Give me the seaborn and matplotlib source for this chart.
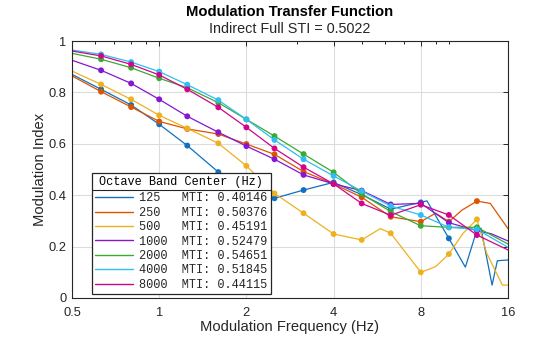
import numpy as np
import pandas as pd
import matplotlib
matplotlib.use("Agg")
import matplotlib.pyplot as plt
import seaborn as sns
from matplotlib.lines import Line2D
from matplotlib.ticker import FixedLocator, NullFormatter

# ---------------- data ----------------
title_text = "Modulation Transfer Function"
subtitle_text = "Indirect Full STI = 0.5022"
x_label = "Modulation Frequency (Hz)"
y_label = "Modulation Index"
legend_title = "Octave Band Center (Hz)"

bands = [125, 250, 500, 1000, 2000, 4000, 8000]
mti = [0.40146, 0.50376, 0.45191, 0.52479, 0.54651, 0.51845, 0.44115]
colors = ["#1171BE", "#DD5400", "#EDB120", "#8516D1", "#3BAA32", "#2FBEEF", "#D1048B"]

# 1/3-octave modulation frequencies (markers)
mod_freqs = [0.63, 0.8, 1.0, 1.25, 1.6, 2.0, 2.5, 3.15, 4.0, 5.0, 6.3, 8.0, 10.0, 12.5]

mtf_125 = [0.812, 0.751, 0.676, 0.593, 0.490, 0.370, 0.388, 0.420, 0.450, 0.402, 0.346, 0.372, 0.232, 0.265]
mtf_250 = [0.803, 0.743, 0.687, 0.658, 0.638, 0.599, 0.559, 0.492, 0.444, 0.392, 0.316, 0.297, 0.297, 0.377]
mtf_500 = [0.831, 0.773, 0.711, 0.660, 0.602, 0.514, 0.407, 0.330, 0.249, 0.226, 0.252, 0.100, 0.171, 0.306]
mtf_1000 = [0.886, 0.835, 0.773, 0.707, 0.645, 0.591, 0.540, 0.479, 0.444, 0.418, 0.364, 0.368, 0.293, 0.262]
mtf_2000 = [0.929, 0.896, 0.855, 0.818, 0.760, 0.695, 0.630, 0.560, 0.489, 0.405, 0.336, 0.281, 0.275, 0.275]
mtf_4000 = [0.948, 0.918, 0.881, 0.830, 0.770, 0.695, 0.615, 0.540, 0.475, 0.416, 0.358, 0.323, 0.275, 0.267]
mtf_8000 = [0.942, 0.909, 0.868, 0.812, 0.742, 0.664, 0.582, 0.509, 0.444, 0.368, 0.322, 0.363, 0.323, 0.245]

# curve values read at the axis ends (0.5 Hz and 16 Hz)
edge_freqs = [0.5, 16.0]
edge_125 = [0.870, 0.148]
edge_250 = [0.864, 0.270]
edge_500 = [0.883, 0.050]
edge_1000 = [0.925, 0.222]
edge_2000 = [0.952, 0.210]
edge_4000 = [0.965, 0.197]
edge_8000 = [0.961, 0.187]

# additional curve points read between markers (wiggles)
extra_125_f = [8.4, 11.4, 12.9, 14.1, 14.7]
extra_125_v = [0.378, 0.120, 0.272, 0.050, 0.145]
extra_250_f = [9.0, 11.1, 13.9]
extra_250_v = [0.330, 0.342, 0.368]
extra_500_f = [5.8, 9.0, 11.2, 13.5, 15.3]
extra_500_v = [0.270, 0.122, 0.252, 0.175, 0.050]
extra_1000_f = [14.0]
extra_1000_v = [0.250]
extra_2000_f = []
extra_2000_v = []
extra_4000_f = []
extra_4000_v = []
extra_8000_f = []
extra_8000_v = []

marker_vals = [mtf_125, mtf_250, mtf_500, mtf_1000, mtf_2000, mtf_4000, mtf_8000]
edge_vals = [edge_125, edge_250, edge_500, edge_1000, edge_2000, edge_4000, edge_8000]
extra_fs = [extra_125_f, extra_250_f, extra_500_f, extra_1000_f, extra_2000_f, extra_4000_f, extra_8000_f]
extra_vs = [extra_125_v, extra_250_v, extra_500_v, extra_1000_v, extra_2000_v, extra_4000_v, extra_8000_v]

labels = [f"{b:<6}MTI: {m:.5f}" for b, m in zip(bands, mti)]

marker_rows, line_rows = [], []
for lab, mv, ev, ef, exv in zip(labels, marker_vals, edge_vals, extra_fs, extra_vs):
    for f, v in zip(mod_freqs, mv):
        marker_rows.append((lab, f, v))
        line_rows.append((lab, f, v))
    for f, v in zip(edge_freqs, ev):
        line_rows.append((lab, f, v))
    for f, v in zip(ef, exv):
        line_rows.append((lab, f, v))
df_markers = pd.DataFrame(marker_rows, columns=["band", "freq", "mtf"])
df_line = pd.DataFrame(line_rows, columns=["band", "freq", "mtf"]).sort_values(["band", "freq"])

# ---------------- style ----------------
sns.set_style("white")
plt.rcParams["font.family"] = ["Liberation Sans", "DejaVu Sans"]
txt = "#262626"

fig = plt.figure(figsize=(5.6, 3.37), dpi=100)
ax = fig.add_axes([72 / 560, 39 / 337, 436 / 560, 257 / 337])

palette = dict(zip(labels, colors))
sns.lineplot(data=df_line, x="freq", y="mtf", hue="band", hue_order=labels,
             palette=palette, estimator=None, sort=True, linewidth=0.9,
             legend=False, ax=ax)
sns.scatterplot(data=df_markers, x="freq", y="mtf", hue="band", hue_order=labels,
                palette=palette, s=18, linewidth=0, legend=False, ax=ax, zorder=3)

ax.set_xscale("log", base=2)
ax.set_xlim(0.5, 16)
ax.set_ylim(0, 1)
ax.xaxis.set_major_locator(FixedLocator([0.5, 1, 2, 4, 8, 16]))
ax.set_xticklabels(["0.5", "1", "2", "4", "8", "16"])
ax.xaxis.set_minor_locator(FixedLocator([0.6, 0.7, 0.8, 0.9, 3, 5, 6, 7, 9, 10]))
ax.xaxis.set_minor_formatter(NullFormatter())
ax.set_yticks([0, 0.2, 0.4, 0.6, 0.8, 1.0])
ax.set_yticklabels(["0", "0.2", "0.4", "0.6", "0.8", "1"])

ax.grid(True, which="major", color="#dcdcdc", linewidth=0.8)
ax.set_axisbelow(True)
for sp in ax.spines.values():
    sp.set_color(txt)
    sp.set_linewidth(0.8)
    sp.set_visible(True)
ax.tick_params(which="both", direction="in", top=True, right=True, colors=txt,
               labelsize=9.3, width=0.7)
ax.tick_params(which="major", length=3.5)
ax.tick_params(which="minor", length=2.2)
ax.tick_params(axis="x", which="major", pad=6.5)
ax.tick_params(axis="y", which="major", pad=4)

ax.set_xlabel(x_label, fontsize=10.6, color=txt, labelpad=1)
ax.set_ylabel(y_label, fontsize=10.6, color=txt, labelpad=1)

fig.text(290 / 560, 1 - 12 / 337, title_text, ha="center", va="center",
         fontsize=10.6, fontweight="bold", color="black")
fig.text(290 / 560, 1 - 29 / 337, subtitle_text, ha="center", va="center",
         fontsize=10.4, color=txt)

handles = [Line2D([0], [0], color=c, lw=1.0) for c in colors]
leg = ax.legend(handles, labels, title=legend_title, loc="lower left",
                bbox_to_anchor=(0.045, 0.014), borderaxespad=0,
                prop={"family": "Liberation Mono", "size": 8.6},
                title_fontproperties={"family": "Liberation Mono", "size": 8.6},
                handlelength=3.2, handletextpad=0.45, labelspacing=0.2,
                borderpad=0.3, fancybox=False, framealpha=1, edgecolor=txt)
leg.get_frame().set_linewidth(0.9)
for t in leg.get_texts():
    t.set_color(txt)
leg.get_title().set_color("black")
leg._legend_box.sep = 3

fig.canvas.draw()
r = fig.canvas.get_renderer()
lb = leg.get_window_extent(r)
tb = leg.get_title().get_window_extent(r)
ysep = tb.y0 - 1.5
W, H = fig.bbox.width, fig.bbox.height
fig.add_artist(Line2D([lb.x0 / W, lb.x1 / W], [ysep / H, ysep / H],
                      transform=fig.transFigure, color=txt, lw=0.8, zorder=10))

fig.savefig("out.png", dpi=100)
